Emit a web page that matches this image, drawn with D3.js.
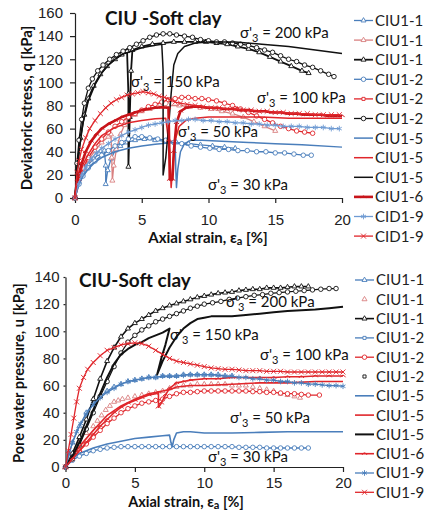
<!doctype html>
<html lang="en">
<head>
<meta charset="utf-8">
<title>CIU soft clay</title>
<style>
  body { margin: 0; background: #fff; }
  svg { font-family: Lato, "Open Sans", sans-serif; }
  .axis text { font-size: 15px; fill: #222; }
  .axis path, .axis line { stroke: #222; stroke-width: 1.2; }
  .lbl { font-size: 15px; fill: #111; }
  .leg { font-size: 15px; fill: #222; }
  .ttl { font-weight: bold; fill: #111; }
</style>
</head>
<body>
<div id="chart"></div>
<script src="https://cdn.jsdelivr.net/npm/d3@7"></script>
<script>

// ---------------- data: top chart, deviatoric stress q [kPa] vs axial strain [%]
var q_11_blue = [[0,0],[0.3,14],[0.6,22],[1,29],[1.4,34],[1.8,38],[2.2,41],[2.3,28],[2.3,12],[2.45,24],[2.7,34],[3,41],[3.4,45],[3.9,48],[4.5,50],[5.2,51],[6,50],[6.8,49],[7.6,48],[8.5,47],[9.4,46],[10.3,45],[11.2,44],[12,43]];
var q_11_red = [[0,0],[0.3,16],[0.6,25],[1,33],[1.5,41],[2,48],[2.5,53],[2.7,55],[2.75,35],[2.8,15],[2.9,28],[3.1,42],[3.4,55],[3.7,63],[4,68],[4.5,72],[5,75],[5.6,77],[6.2,79],[7,80],[7.8,80],[8.6,79],[9.4,78],[10.2,77],[11,75],[11.8,73],[12.6,70],[13.4,66],[14.2,62],[15,58]];
var q_11_black = [[0,0],[0.2,30],[0.4,52],[0.7,72],[1,86],[1.4,97],[1.9,107],[2.4,114],[3,120],[3.5,124],[3.9,127],[4,90],[4,27],[4.1,70],[4.2,110],[4.3,128],[5,131],[5.8,133],[6.6,134],[7.4,135],[8.2,135],[9,135],[9.8,135],[10.6,134],[11.4,133],[12.2,131],[13,129],[13.8,126],[14.6,122],[15.4,118],[16.2,114],[17,110],[17.5,108]];
var q_12_blue = [[0,0],[0.3,12],[0.6,19],[1,26],[1.5,32],[2,37],[2.5,41],[3,45],[3.5,48],[4,51],[4.5,53],[5,53],[5.6,52],[6.2,51],[6.8,50],[7.4,48],[8,47],[8.7,45],[9.4,44],[10.1,43],[10.8,42],[11.5,42],[12.2,41],[12.9,41],[13.6,40],[14.3,40],[15,39],[15.7,39],[16.4,38],[17.1,37],[17.7,37]];
var q_12_red = [[0,0],[0.3,16],[0.6,26],[1,35],[1.5,44],[2,51],[2.5,57],[3,62],[3.5,66],[4,70],[4.5,73],[5,76],[5.5,79],[6,81],[6.5,83],[7,85],[7.5,86],[8,87],[8.5,87],[9,86],[9.5,86],[10,85],[10.6,84],[11.2,82],[11.8,80],[12.4,77],[13,74],[13.6,71],[14.2,68],[14.8,65],[15.4,62],[16,60],[16.6,58],[17.2,57],[17.8,56]];
var q_12_black = [[0,0],[0.15,30],[0.3,50],[0.5,68],[0.7,82],[1,95],[1.3,103],[1.7,110],[2.1,115],[2.6,120],[3.1,124],[3.6,127],[4.1,130],[4.6,133],[5.1,136],[5.6,139],[6.1,141],[6.6,142],[7.1,142],[7.6,141],[8.2,140],[8.8,139],[9.4,137],[10,136],[10.6,135],[11.2,135],[11.8,134],[12.4,133],[13,132],[13.6,130],[14.2,128],[14.8,126],[15.4,123],[16,120],[16.6,118],[17.2,115],[17.8,113],[18.4,110],[19,107],[19.4,105]];
var q_15_blue = [[0,0],[0.3,12],[0.6,19],[1,25],[1.5,31],[2,35],[3,40],[4,43],[5,45],[6,46.5],[7,47.5],[7.5,48],[7.55,25],[7.6,9],[7.7,25],[7.9,40],[8.2,47],[8.7,50],[9.5,50],[11,49],[13,48],[15,47],[17,46],[20,44]];
var q_15_red = [[0,0],[0.3,18],[0.6,29],[1,38],[1.5,47],[2,54],[3,61],[4,65],[5,67],[6,68.5],[6.8,69],[7.1,40],[7.2,9],[7.35,30],[7.5,50],[7.8,62],[8.3,67],[9,69],[10,70],[12,70],[14,70],[16,69],[18,69],[20,69]];
var q_15_black = [[0,0],[0.3,40],[0.6,65],[1,84],[1.5,98],[2,108],[2.5,115],[3,120],[3.5,124],[4,126],[4.5,128],[5,130],[5.5,131],[6,132],[6.5,133],[6.6,110],[6.6,60],[6.6,20],[6.8,35],[7,60],[7.2,90],[7.4,115],[7.7,125],[8.2,131],[9,134],[10,135],[12,135],[14,133],[16,131],[18,128],[20,125]];
var q_16_red = [[0,0],[0.2,16],[0.5,30],[0.8,40],[1.2,49],[1.6,55],[2,60],[2.5,64],[3,67],[3.5,70],[4,72],[4.5,74],[5,76],[5.5,77],[6,78],[6.5,78.5],[7,78],[7.05,50],[7.1,16],[7.3,16],[7.4,40],[7.6,65],[7.9,75],[8.3,78],[8.8,79],[9.4,79],[10,78],[10.6,78],[11.2,77],[11.8,77],[12.4,76],[13,76],[13.6,75],[14.2,75],[14.8,74],[15.4,74],[16,73],[16.6,73],[17.2,72],[17.8,72],[18.4,72],[19,71],[19.6,71],[20,71]];
var q_19_blue = [[0,0],[0.25,12],[0.5,20],[0.8,27],[1.2,34],[1.6,39],[2,43],[2.5,47],[3,51],[3.5,54],[4,57],[4.5,59],[5,61],[5.5,63],[6,64],[6.5,65],[7,66],[7.5,67],[8,67],[8.5,68],[9,68],[9.6,67],[10.2,67],[10.8,66],[11.4,66],[12,65],[12.6,65],[13.2,64],[13.8,64],[14.4,63],[15,63],[15.6,62],[16.2,62],[16.8,62],[17.4,61],[18,61],[18.6,61],[19.2,60],[19.8,60]];
var q_19_red = [[0,0],[0.15,22],[0.3,32],[0.5,42],[0.8,52],[1.1,60],[1.5,67],[1.9,73],[2.3,78],[2.7,82],[3.1,85],[3.5,87],[3.9,89],[4.3,90],[4.7,91],[5.1,92],[5.5,91],[5.9,90],[6.3,88],[6.7,87],[7.1,85],[7.5,83],[7.9,82],[8.4,81],[9,80],[9.6,79],[10.2,78],[10.8,78],[11.4,77],[12,77],[12.6,76],[13.2,76],[13.8,75],[14.4,75],[15,74],[15.6,74],[16.2,73],[16.8,73],[17.4,73],[18,72],[18.6,72],[19.2,72],[19.8,72]];

// ---------------- data: bottom chart, pore water pressure u [kPa] vs axial strain [%]
var u_11_blue = [[0,0],[0.5,18],[1,30],[1.5,40],[2,47],[2.5,52],[3,56],[3.5,59],[4,61],[4.5,63],[5,64],[5.5,65],[6,66],[6.5,66],[7,67],[7.5,67],[8,67],[8.5,68],[9,68],[9.5,68],[10,68],[10.5,68],[11,68],[11.5,67],[12,67]];
var u_11_red = [[0,0],[0.5,9],[1,18],[1.5,25],[2,30],[2.3,34],[2.6,38],[2.9,42],[3.2,45],[3.5,48],[3.8,49],[4.1,50],[4.5,51],[5,52],[5.5,53],[6,54],[6.5,55],[7,56],[7.5,58],[8,59],[8.5,60],[9,60],[9.5,61],[10,61],[10.5,61],[11,61],[11.5,61],[12,60],[12.5,60],[13,60],[13.5,59],[14,58],[14.5,57],[15,56],[15.5,54],[16,53],[16.5,52],[16.9,51]];
var u_11_black = [[0,0],[0.5,10],[1,22],[1.5,35],[2,50],[2.5,65],[3,78],[3.5,88],[4,96],[4.5,102],[5,106],[5.5,109],[6,112],[6.5,115],[7,117],[7.5,119],[8,120.5],[8.5,122],[9,123.5],[9.5,125],[10,126],[10.5,127],[11,128],[11.5,128.5],[12,129],[12.5,130],[13,130.5],[13.5,131],[14,131],[14.5,132],[15,132],[15.5,132],[16,132.5],[16.5,133],[17,133],[17.5,133]];
var u_12_blue = [[0,0],[0.5,5],[1,8],[1.5,10],[2,12],[2.5,13],[3,14],[3.5,14.5],[4,15],[4.5,15],[5,15],[5.5,15],[6,15],[6.5,15],[7,15],[7.5,15],[8,15],[8.5,15],[9,15],[9.5,15],[10,15],[10.5,15],[11,15],[11.5,15],[12,15],[12.5,14.5],[13,14.5],[13.5,14.5],[14,14.5],[14.5,14],[15,14],[15.5,14],[16,14],[16.5,14],[17,14],[17.5,14]];
var u_12_red = [[0,0],[0.5,6],[1,12],[1.5,17],[2,22],[2.5,27],[3,32],[3.5,36],[4,40],[4.5,43],[5,45],[5.5,47],[6,48],[6.5,49],[7,50],[7.5,52],[8,54],[8.5,55],[9,55],[9.5,55.5],[10,56],[10.5,56],[11,56],[11.5,56],[12,56],[12.5,56],[13,56],[13.5,55.5],[14,55.5],[14.5,55],[15,55],[15.5,54.5],[16,54],[16.5,54],[17,53.5],[17.5,53],[18.3,53]];
var u_12_black = [[0,0],[0.5,6],[1,16],[1.5,28],[2,40],[2.5,52],[3,63],[3.5,74],[4,84],[4.5,92],[5,97],[5.5,101],[6,104],[6.5,107],[7,109],[7.5,111],[8,113],[8.5,115],[9,117],[9.5,118.5],[10,120],[10.6,121],[11.2,122],[11.8,123.5],[12.4,124.5],[13,125.5],[13.6,126.5],[14.2,127],[14.8,128],[15.4,128.5],[16,129],[16.6,129.5],[17.2,130],[17.8,130.5],[18.4,131],[19,131.5],[19.5,131.5]];
var u_15_blue = [[0,0],[0.5,6],[1,10],[1.5,12],[2,14],[3,17],[4,19],[5,21],[6,22],[7,23],[7.5,23.5],[7.6,18],[7.7,15],[7.8,20],[8,25],[8.5,26],[9,26],[10,25],[12,25],[14,25.5],[16,26],[18,26],[20,26]];
var u_15_red = [[0,0],[0.5,8],[1,15],[2,27],[3,38],[4,45],[5,50],[6,54],[7,56],[7.5,57],[8,59],[9,60],[10,60],[12,61],[14,62],[16,62],[18,63],[20,63]];
var u_15_black = [[0,0],[0.5,8],[1,18],[1.5,30],[2,42],[2.5,54],[3,66],[3.5,76],[4,83],[4.5,87],[5,90],[5.5,92],[6,95],[6.5,97],[7,99],[7.5,102],[7.2,90],[6.9,80],[6.6,68],[7,78],[7.5,88],[8,96],[8.5,102],[9,106],[9.5,109],[10,110],[10.5,111],[11,111],[12,111],[13,112],[14,113],[15,114],[16,115],[17,115.5],[18,116],[19,117],[20,118]];
var u_16_red = [[0,0],[0.5,6],[1,12],[1.5,18],[2,24],[2.5,30],[3,35],[3.5,40],[4,44],[4.5,47],[5,49],[5.5,51],[6,53],[6.5,54],[6.7,55],[6.7,44],[6.9,47],[7.2,53],[7.5,58],[8,62],[8.5,63],[9,64],[10,65],[11,65],[12,66],[13,66],[14,66],[15,66],[16,66.5],[17,66.5],[18,67],[19,67],[20,67]];
var u_19_blue = [[0,0],[0.25,10],[0.5,18],[0.8,26],[1.1,32],[1.5,39],[2,46],[2.5,51],[3,55],[3.5,58],[4,61],[4.5,63],[5,64],[5.5,65],[6,66],[6.5,66],[7,67],[7.5,67],[8,67],[8.5,67.5],[9,68],[9.5,68],[10,68],[10.5,68],[11,67.5],[11.5,67],[12,67],[12.5,66],[13,66],[13.5,65],[14,65],[14.5,64],[15,64],[15.5,63],[16,63],[16.5,62],[17,62],[17.5,61],[18,61],[18.5,60.5],[19,60],[19.5,60],[20,59.5]];
var u_19_red = [[0,0],[0.2,12],[0.4,24],[0.6,36],[0.8,48],[1,58],[1.3,66],[1.6,72],[2,77],[2.5,82],[3,86],[3.5,88],[4,90],[4.5,91],[5,91.5],[5.5,91],[6,89],[6.5,86],[7,83],[7.5,80],[8,78],[8.5,77],[9,76],[9.5,75],[10,74],[10.5,73],[11,72.5],[11.5,72],[12,72],[12.5,71.5],[13,71],[13.5,71],[14,71],[14.5,70.5],[15,70.5],[15.5,70.5],[16,70],[16.5,70],[17,70],[17.5,70],[18,70],[18.5,70],[19,70],[19.5,70],[20,70]];

var xTicks = [0, 5, 10, 15, 20];
var qTicks = [0, 20, 40, 60, 80, 100, 120, 140, 160];
var uTicks = [0, 20, 40, 60, 80, 100, 120, 140];
var topNames = ["CIU1-1","CIU1-1","CIU1-1","CIU1-2","CIU1-2","CIU1-2","CIU1-5","CIU1-5","CIU1-5","CIU1-6","CID1-9","CID1-9"];
var botNames = ["CIU1-1","CIU1-1","CIU1-1","CIU1-2","CIU1-2","CIU1-2","CIU1-5","CIU1-5","CIU1-5","CIU1-6","CIU1-9","CIU1-9"];
var topNotes = ["200", "150", "100", "50", "30"];
var botNotes = ["200", "150", "100", "50", "30"];

var BLUE = "#4a7ebb", RED = "#e0262b", PINK = "#d98080", BLACK = "#111", DRED = "#c8141a", LBLUE = "#6f9bd3";

// style of each series (line, marker) in legend order
var topStyle = [
  {c: BLUE, m: "tri", w: 1.3, data: q_11_blue},
  {c: PINK, m: "tri", w: 1.3, data: q_11_red},
  {c: BLACK, m: "tri", w: 1.8, data: q_11_black},
  {c: BLUE, m: "circ", w: 1.3, data: q_12_blue},
  {c: RED, m: "circ", w: 1.3, data: q_12_red, lm: "sq"},
  {c: BLACK, m: "circ", w: 1.3, data: q_12_black},
  {c: BLUE, m: null, w: 1.5, data: q_15_blue},
  {c: RED, m: null, w: 1.5, data: q_15_red},
  {c: BLACK, m: null, w: 1.5, data: q_15_black},
  {c: DRED, m: "arc", w: 2.6, data: q_16_red},
  {c: LBLUE, m: "star", w: 1.3, data: q_19_blue},
  {c: RED, m: "times", w: 1.3, data: q_19_red}
];
var botStyle = [
  {c: BLUE, m: "tri", w: 1.3, data: u_11_blue},
  {c: PINK, m: "tri", w: 0, data: u_11_red},
  {c: BLACK, m: "tri", w: 1.6, data: u_11_black},
  {c: BLUE, m: "circ", w: 1.3, data: u_12_blue, lm: "sq"},
  {c: RED, m: "circ", w: 1.3, data: u_12_red},
  {c: BLACK, m: "circ", w: 1.2, data: u_12_black, lm: "sq", lw: 0},
  {c: BLUE, m: null, w: 1.6, data: u_15_blue},
  {c: RED, m: null, w: 1.6, data: u_15_red},
  {c: BLACK, m: null, w: 2, data: u_15_black},
  {c: RED, m: "arc", w: 1.6, data: u_16_red},
  {c: BLUE, m: "star", w: 1.3, data: u_19_blue},
  {c: RED, m: "times", w: 1.3, data: u_19_red}
];

var svg = d3.select("#chart").append("svg").attr("width", 427).attr("height", 511);

function marker(g, type, x, y, col) {
  if (!type) return;
  if (type == "arc") {
    g.append("path").attr("d", "M" + (x - 2.5) + "," + (y + 1.2) + "Q" + x + "," + (y - 3) + " " + (x + 2.5) + "," + (y + 1.2))
      .attr("fill", "none").attr("stroke", col).attr("stroke-width", 1);
    return;
  }
  var sym = {tri: d3.symbolTriangle2, circ: d3.symbolCircle, sq: d3.symbolSquare2, star: d3.symbolAsterisk, times: d3.symbolTimes}[type];
  var size = {tri: 18, circ: 16, sq: 12, star: 22, times: 18}[type];
  g.append("path").attr("d", d3.symbol(sym, size)())
    .attr("transform", "translate(" + x + "," + y + ")")
    .attr("fill", (type == "circ" || type == "tri" || type == "sq") ? "#fff" : "none")
    .attr("stroke", col).attr("stroke-width", 0.9);
}

function note(g, x, y, val) {
  var t = g.append("text").attr("class", "lbl").attr("x", x).attr("y", y);
  t.append("tspan").text("σ'");
  t.append("tspan").attr("font-size", "11px").attr("dy", 4).text("3");
  t.append("tspan").attr("dy", -4).text(" = " + val + " kPa");
}

function drawChart(o) {
  var g = svg.append("g");
  var x = d3.scaleLinear().domain([0, 20]).range(o.xr);
  var y = d3.scaleLinear().domain(o.yd).range(o.yr);

  g.append("g").attr("class", "axis").attr("transform", "translate(0," + o.yr[0] + ")")
    .call(d3.axisBottom(x).tickValues(xTicks).tickSize(5).tickSizeOuter(0).tickPadding(o.xpad));
  g.append("g").attr("class", "axis").attr("transform", "translate(" + o.xr[0] + ",0)")
    .call(d3.axisLeft(y).tickValues(o.yt).tickSize(o.ytick).tickSizeOuter(0).tickPadding(o.ypad));

  var line = d3.line().x(function(d) { return x(d[0]); }).y(function(d) { return y(d[1]); });
  o.series.forEach(function(s) {
    if (s.w > 0) g.append("path").attr("d", line(s.data)).attr("fill", "none")
      .attr("stroke", s.c).attr("stroke-width", s.w).attr("stroke-linejoin", "round");
    if (s.m) {
      var mg = g.append("g");
      s.data.forEach(function(d) { marker(mg, s.m, x(d[0]), y(d[1]), s.c); });
    }
  });

  // title and axis titles
  g.append("text").attr("class", "ttl").attr("x", o.title[0]).attr("y", o.title[1])
    .style("font-size", "19px").text(o.title[2]);
  g.append("text").attr("class", "ttl").attr("text-anchor", "middle")
    .attr("transform", "translate(" + o.ytitle[0] + "," + o.ytitle[1] + ") rotate(-90)")
    .attr("dy", "0.35em").style("font-size", o.ytitle[3]).text(o.ytitle[2]);
  var xt = g.append("text").attr("class", "ttl").attr("text-anchor", "middle")
    .attr("x", o.xtitle[0]).attr("y", o.xtitle[1]).style("font-size", o.xtitle[2]);
  xt.append("tspan").text("Axial strain, ε");
  xt.append("tspan").attr("font-size", "11px").attr("dy", 2).text("a");
  xt.append("tspan").attr("dy", -2).text(" [%]");

  o.notes.forEach(function(n, i) { note(g, o.notePos[i][0], o.notePos[i][1], n); });

  // legend
  o.names.forEach(function(n, i) {
    var s = o.series[i], ly = o.leg[1] + i * o.leg[2];
    var lw = s.lw !== undefined ? s.lw : s.w;
    if (lw > 0) g.append("line").attr("x1", o.leg[0]).attr("x2", o.leg[0] + 19).attr("y1", ly).attr("y2", ly)
      .attr("stroke", s.c).attr("stroke-width", Math.min(lw, 2.6));
    marker(g, s.lm || s.m, o.leg[0] + 9.5, ly, s.c);
    g.append("text").attr("class", "leg").attr("x", o.leg[0] + 21).attr("y", ly).attr("dy", "0.36em").text(n);
  });
}

drawChart({
  xr: [75, 342], yd: [0, 160], yr: [198, 13], yt: qTicks, ytick: 5, ypad: 7, xpad: 11,
  series: topStyle, names: topNames, leg: [354, 20.5, 19.6],
  title: [105, 25, "CIU -Soft clay"],
  ytitle: [27, 108, "Deviatoric stress, q [kPa]", "15px"],
  xtitle: [208, 243, "15px"],
  notes: topNotes, notePos: [[240, 38], [131, 87], [257, 103], [178, 137], [208, 190]]
});

drawChart({
  xr: [65.5, 343], yd: [0, 140], yr: [467, 277], yt: uTicks, ytick: 2, ypad: 4, xpad: 5,
  series: botStyle, names: botNames, leg: [355, 280, 19.3],
  title: [79, 287, "CIU-Soft clay"],
  ytitle: [19, 373, "Pore water pressure, u [kPa]", "14.5px"],
  xtitle: [186, 507, "14.5px"],
  notes: botNotes, notePos: [[226, 307], [170, 340], [260, 360], [230, 423], [208, 462]]
});

</script>
</body>
</html>
